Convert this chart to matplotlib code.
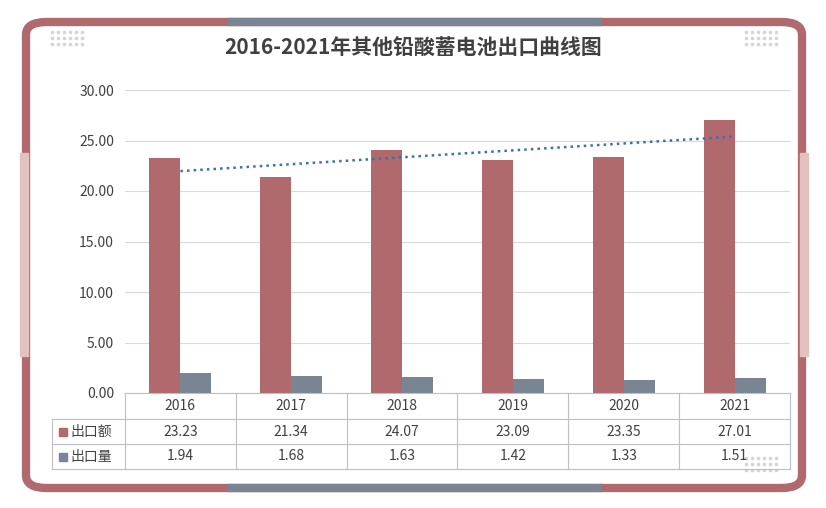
import matplotlib.pyplot as plt
import matplotlib.patches as mpatches
import numpy as np

plt.rcParams['font.family'] = ['Noto Sans CJK JP', 'Noto Sans CJK SC', 'Noto Sans CJK TC', 'DejaVu Sans']

years = ['2016', '2017', '2018', '2019', '2020', '2021']
export_value = [23.23, 21.34, 24.07, 23.09, 23.35, 27.01]
export_volume = [1.94, 1.68, 1.63, 1.42, 1.33, 1.51]
series_names = ['出口额', '出口量']
title = '2016-2021年其他铅酸蓄电池出口曲线图'

RED = '#B0696C'
GRAY = '#7A8594'
W, H = 826, 508

fig = plt.figure(figsize=(W / 100, H / 100), dpi=100)

def fx(px):
    return px / W

def fy(py):
    return 1 - py / H

# ---- frame ----
frame = mpatches.FancyBboxPatch((fx(26), fy(488)), fx(776), (488 - 22) / H,
                                boxstyle='round,pad=0,rounding_size=0.025',
                                transform=fig.transFigure, fill=False,
                                edgecolor=RED, linewidth=6, zorder=1)
fig.patches.append(frame)
for yy in (22, 488):
    fig.add_artist(plt.Line2D([fx(232), fx(598)], [fy(yy), fy(yy)], color=GRAY,
                              linewidth=6, transform=fig.transFigure, zorder=2))
for xx in (24, 804):
    fig.patches.append(mpatches.Rectangle((fx(xx - 4), fy(356)), fx(8), 203 / H,
                                          transform=fig.transFigure, color='#E2C2BF', zorder=2))
# corner dots
for (x0, y0) in [(52, 32), (746, 32), (746, 458)]:
    gx, gy = np.meshgrid(np.arange(6) * 6 + x0, np.arange(3) * 6 + y0)
    fig.add_artist(plt.Line2D(fx(gx.ravel()), fy(gy.ravel()), linestyle='none', marker='o',
                              markersize=1.6, color='#D5D5D5', transform=fig.transFigure))

fig.text(0.5, fy(48), title, ha='center', va='center', fontsize=15, fontweight='bold', color='#404040')

# ---- axes ----
ax_l, ax_r, ax_t, ax_b = 125, 790, 90, 393
ax = fig.add_axes([fx(ax_l), fy(ax_b), fx(ax_r - ax_l), (ax_b - ax_t) / H])
x = np.arange(len(years))
bw = 0.28
ax.bar(x - bw / 2, export_value, bw, color=RED, zorder=3)
ax.bar(x + bw / 2, export_volume, bw, color=GRAY, zorder=3)
k, b = np.polyfit(x, export_value, 1)
ax.plot(x, k * x + b, linestyle=':', color='#3B6FB0', linewidth=1.8, zorder=4)
ax.set_xlim(-0.5, len(years) - 0.5)
ax.set_ylim(0, 30)
ax.set_yticks(np.arange(0, 31, 5))
ax.set_yticklabels(['%.2f' % v for v in np.arange(0, 31, 5)], fontsize=10, color='#404040')
ax.set_xticks([])
ax.yaxis.grid(True, color='#D9D9D9', linewidth=0.8, zorder=0)
ax.tick_params(axis='y', length=0, pad=8)
for s in ax.spines.values():
    s.set_visible(False)

# ---- data table ----
line_c = '#BFBFBF'
col_w = (ax_r - ax_l) / len(years)
rows_y = [393, 419, 444, 469]
def hline(y, x0, x1):
    fig.add_artist(plt.Line2D([fx(x0), fx(x1)], [fy(y), fy(y)], color=line_c, lw=0.8, transform=fig.transFigure))
def vline(xx, y0, y1):
    fig.add_artist(plt.Line2D([fx(xx), fx(xx)], [fy(y0), fy(y1)], color=line_c, lw=0.8, transform=fig.transFigure))
hline(393, ax_l, ax_r)
for y in rows_y[1:]:
    hline(y, 52, ax_r)
vline(52, 419, 469)
for i in range(len(years) + 1):
    vline(ax_l + i * col_w, 393, 469)
for i, yr in enumerate(years):
    cx = fx(ax_l + (i + 0.5) * col_w)
    fig.text(cx, fy(406), yr, ha='center', va='center', fontsize=10, color='#404040')
    fig.text(cx, fy(431.5), '%.2f' % export_value[i], ha='center', va='center', fontsize=10, color='#404040')
    fig.text(cx, fy(456.5), '%.2f' % export_volume[i], ha='center', va='center', fontsize=10, color='#404040')
for name, c, yy in zip(series_names, [RED, GRAY], [431.5, 456.5]):
    fig.patches.append(mpatches.Rectangle((fx(59), fy(yy + 4)), fx(8), 8 / H, color=c, transform=fig.transFigure))
    fig.text(fx(70), fy(yy), name, ha='left', va='center', fontsize=10, color='#404040')

fig.savefig('out.png', dpi=100)
